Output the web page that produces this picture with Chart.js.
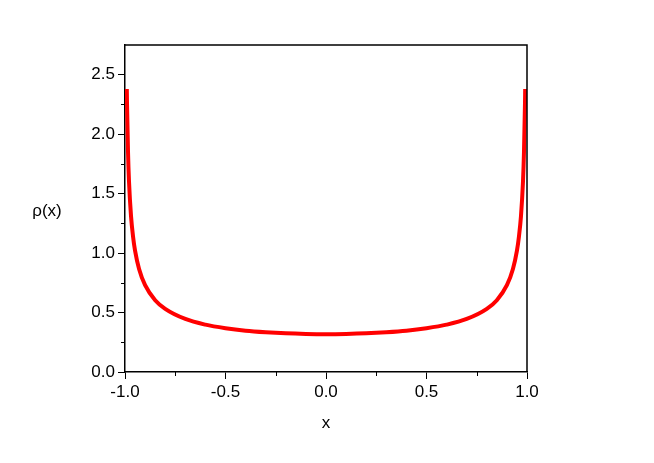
<!DOCTYPE html>
<html>
<head>
<meta charset="utf-8">
<script src="https://cdn.jsdelivr.net/npm/chart.js@4.4.1/dist/chart.umd.min.js"></script>
<style>
  html, body { margin: 0; padding: 0; background: #fff; }
  #wrap { width: 654px; height: 463px; }
</style>
</head>
<body>
<div id="wrap"><canvas id="rhoChart"></canvas></div>
<script>
// values (density rho(x) vs x)
const xValues = [-0.991, -0.99, -0.985, -0.98, -0.97, -0.96, -0.95, -0.93, -0.9, -0.85, -0.8, -0.7, -0.6, -0.5, -0.4, -0.3, -0.2, -0.1, 0,
                 0.1, 0.2, 0.3, 0.4, 0.5, 0.6, 0.7, 0.8, 0.85, 0.9, 0.93, 0.95, 0.96, 0.97, 0.98, 0.985, 0.99, 0.991];
const rhoValues = [2.38, 2.26, 1.85, 1.60, 1.31, 1.14, 1.02, 0.866, 0.730, 0.604, 0.531, 0.446, 0.398, 0.368, 0.347, 0.334, 0.325, 0.320, 0.318,
                   0.320, 0.325, 0.334, 0.347, 0.368, 0.398, 0.446, 0.531, 0.604, 0.730, 0.866, 1.02, 1.14, 1.31, 1.60, 1.85, 2.26, 2.38];
const xMinorTicks = [-0.75, -0.25, 0.25, 0.75];
const yMinorTicks = [0.25, 0.75, 1.25, 1.75, 2.25];
const xTitle = 'x';
const yTitle = 'ρ(x)';

const FONT = 'Liberation Sans, Arial, sans-serif';

const framePlugin = {
  id: 'frame',
  afterDraw(chart) {
    const ctx = chart.ctx;
    const a = chart.chartArea;
    const xs = chart.scales.x, ys = chart.scales.y;
    ctx.save();
    ctx.strokeStyle = '#000';
    ctx.lineWidth = 1.5;
    ctx.beginPath();
    ctx.moveTo(a.left, a.top);
    ctx.lineTo(a.right, a.top);
    ctx.lineTo(a.right, a.bottom);
    ctx.stroke();
    // minor ticks
    ctx.lineWidth = 1;
    ctx.beginPath();
    xMinorTicks.forEach(v => {
      const px = Math.round(xs.getPixelForValue(v)) + 0.5;
      ctx.moveTo(px, a.bottom);
      ctx.lineTo(px, a.bottom + 4);
    });
    yMinorTicks.forEach(v => {
      const py = Math.round(ys.getPixelForValue(v)) + 0.5;
      ctx.moveTo(a.left, py);
      ctx.lineTo(a.left - 4, py);
    });
    ctx.stroke();
    // axis titles
    ctx.fillStyle = '#000';
    ctx.font = '17px ' + FONT;
    ctx.textAlign = 'center';
    ctx.textBaseline = 'middle';
    ctx.fillText(yTitle, 47, 211);
    ctx.fillText(xTitle, (a.left + a.right) / 2, 423);
    ctx.restore();
  }
};

new Chart(document.getElementById('rhoChart'), {
  type: 'line',
  data: {
    datasets: [{
      data: xValues.map((x, i) => ({ x: x, y: rhoValues[i] })),
      borderColor: '#ff0000',
      borderWidth: 4,
      pointRadius: 0,
      fill: false,
      cubicInterpolationMode: 'monotone'
    }]
  },
  options: {
    responsive: true,
    maintainAspectRatio: false,
    animation: false,
    layout: { padding: { left: 0, top: 45, right: 127, bottom: 0 } },
    plugins: { legend: { display: false }, tooltip: { enabled: false } },
    scales: {
      x: {
        type: 'linear',
        min: -1, max: 1,
        afterFit: s => { s.height = 91; },
        border: { display: true, color: '#000', width: 1.5 },
        grid: { drawOnChartArea: false, tickLength: 7, tickColor: '#000', tickWidth: 1 },
        ticks: {
          stepSize: 0.5,
          includeBounds: false,
          color: '#000',
          font: { family: FONT, size: 17 },
          padding: 3,
          maxRotation: 0,
          callback: v => v.toFixed(1)
        }
      },
      y: {
        min: 0, max: 2.75,
        afterFit: s => { s.width = 125; },
        border: { display: true, color: '#000', width: 1.5 },
        grid: { drawOnChartArea: false, tickLength: 7, tickColor: '#000', tickWidth: 1 },
        ticks: {
          stepSize: 0.5,
          includeBounds: false,
          color: '#000',
          font: { family: FONT, size: 17 },
          padding: 3,
          callback: v => v.toFixed(1)
        }
      }
    }
  },
  plugins: [framePlugin]
});
</script>
</body>
</html>
